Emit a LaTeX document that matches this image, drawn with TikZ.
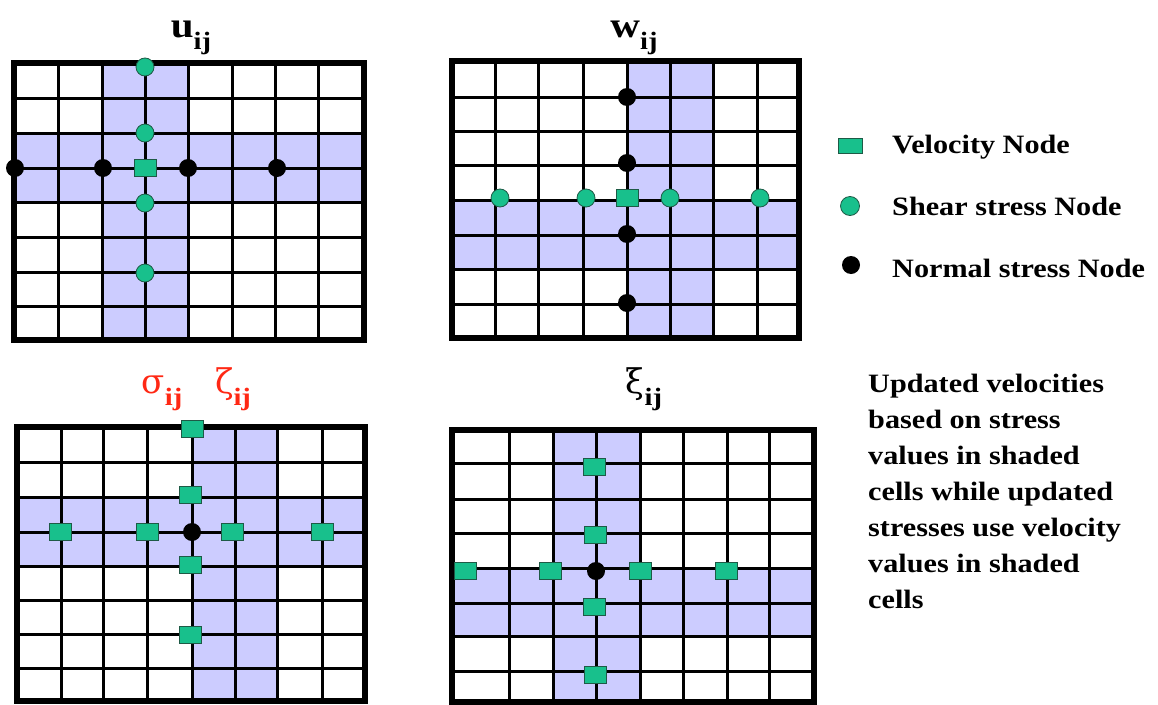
\documentclass[tikz,border=0pt]{standalone}
\usepackage{fontspec}
\setmainfont{Liberation Serif}[FakeStretch=1.14]
\newfontfamily\greekfont{DejaVu Serif}
\definecolor{shadecell}{RGB}{204,204,255}
\definecolor{nodegreen}{RGB}{24,192,140}
\definecolor{nodeedge}{RGB}{30,90,70}
\definecolor{titlered}{RGB}{255,40,20}
\tikzset{
  gridline/.style={line width=3pt},
  frameline/.style={line width=6pt},
  velnode/.style={rectangle, fill=nodegreen, draw=nodeedge, line width=0.8pt,
    minimum width=22pt, minimum height=17pt, inner sep=0pt},
  shearnode/.style={circle, fill=nodegreen, draw=nodeedge, line width=0.8pt,
    minimum size=18pt, inner sep=0pt},
  normalnode/.style={circle, fill=black, minimum size=18pt, inner sep=0pt},
  titletxt/.style={anchor=base, inner sep=0pt},
  legendtxt/.style={anchor=base west, inner sep=0pt,
    font=\fontsize{26.5}{36}\selectfont\bfseries},
}
\newcommand{\bigsym}[1]{{\fontsize{36}{36}\selectfont #1}}
\newcommand{\greeksym}[1]{{\greekfont\fontsize{34}{34}\selectfont #1}}
\newcommand{\subij}{\raisebox{-12pt}{\fontsize{25}{25}\selectfont\bfseries ij}}
\begin{document}
\begin{tikzpicture}[x=1pt, y=-1pt]
\useasboundingbox (0,0) rectangle (1158,704);
\fill[white] (0,0) rectangle (1158,704);

% ---------- u_ij grid ----------
\fill[shadecell] (102,63) rectangle (188,340);
\fill[shadecell] (14,133) rectangle (364,202);
\foreach \x in {58,102,145,188,232,275,318} \draw[gridline] (\x,63) -- (\x,340);
\foreach \y in {98,133,168,202,237,272,306} \draw[gridline] (14,\y) -- (364,\y);
\draw[frameline] (14,63) rectangle (364,340);
\node[titletxt] (tu) at (191,37) {\bfseries\bigsym{u}\subij};
\node[shearnode] (u-s1) at (145,67) {};
\node[shearnode] (u-s2) at (145,133) {};
\node[shearnode] (u-s3) at (145,203) {};
\node[shearnode] (u-s4) at (145,273) {};
\node[normalnode] (u-n1) at (15,168) {};
\node[normalnode] (u-n2) at (103,168) {};
\node[normalnode] (u-n3) at (188,168) {};
\node[normalnode] (u-n4) at (277,168) {};
\node[velnode] (u-v) at (145,168) {};

% ---------- w_ij grid ----------
\fill[shadecell] (627,61) rectangle (713,338);
\fill[shadecell] (452,200) rectangle (799,269);
\foreach \x in {495,538,583,627,670,713,757} \draw[gridline] (\x,61) -- (\x,338);
\foreach \y in {97,131,165,200,235,269,304} \draw[gridline] (452,\y) -- (799,\y);
\draw[frameline] (452,61) rectangle (799,338);
\node[titletxt] (tw) at (634,37) {\bfseries\bigsym{w}\subij};
\node[normalnode] (w-n1) at (627,97) {};
\node[normalnode] (w-n2) at (627,163) {};
\node[normalnode] (w-n3) at (627,234) {};
\node[normalnode] (w-n4) at (627,303) {};
\node[shearnode] (w-s1) at (500,198) {};
\node[shearnode] (w-s2) at (586,198) {};
\node[shearnode] (w-s3) at (670,198) {};
\node[shearnode] (w-s4) at (760,198) {};
\node[velnode] (w-v) at (627,198) {};

% ---------- sigma_ij / zeta_ij grid ----------
\fill[shadecell] (192,427) rectangle (277,701);
\fill[shadecell] (17,497) rectangle (365,566);
\foreach \x in {61,103,147,192,235,277,322} \draw[gridline] (\x,427) -- (\x,701);
\foreach \y in {462,497,532,566,600,634,668} \draw[gridline] (17,\y) -- (365,\y);
\draw[frameline] (17,427) rectangle (365,701);
\node[titletxt, text=titlered] (tsig) at (162,393) {\greeksym{σ}\subij};
\node[titletxt, text=titlered] (tzeta) at (233,393) {\greeksym{ζ}\subij};
\node[velnode] (s-v1) at (192,429) {};
\node[velnode] (s-v2) at (190,495) {};
\node[velnode] (s-v3) at (190,565) {};
\node[velnode] (s-v4) at (190,635) {};
\node[velnode] (s-v5) at (60,532) {};
\node[velnode] (s-v6) at (147,532) {};
\node[velnode] (s-v7) at (232,532) {};
\node[velnode] (s-v8) at (322,532) {};
\node[normalnode] (s-n) at (192,532) {};

% ---------- xi_ij grid ----------
\fill[shadecell] (553,430) rectangle (640,702);
\fill[shadecell] (452,568) rectangle (814,636);
\foreach \x in {509,553,596,640,683,727,769} \draw[gridline] (\x,430) -- (\x,702);
\foreach \y in {463,499,533,568,603,636,671} \draw[gridline] (452,\y) -- (814,\y);
\draw[frameline] (452,430) rectangle (814,702);
\node[titletxt] (txi) at (644,393) {\greeksym{ξ}\subij};
\node[velnode] (x-v1) at (594,467) {};
\node[velnode] (x-v2) at (595,535) {};
\node[velnode] (x-v3) at (594,607) {};
\node[velnode] (x-v4) at (595,675) {};
\node[velnode] (x-v5) at (465,571) {};
\node[velnode] (x-v6) at (550,571) {};
\node[velnode] (x-v7) at (640,571) {};
\node[velnode] (x-v8) at (726,571) {};
\node[normalnode] (x-n) at (596,571) {};

% ---------- legend ----------
\node[velnode, minimum width=24pt, minimum height=15pt] (lg-v) at (850,146) {};
\node[shearnode, minimum size=19pt] (lg-s) at (850,206) {};
\node[normalnode, minimum size=18pt] (lg-n) at (851,265) {};
\node[legendtxt] (lg-vt) at (892,153) {Velocity Node};
\node[legendtxt] (lg-st) at (892,215) {Shear stress Node};
\node[legendtxt] (lg-nt) at (892,277) {Normal stress Node};

% ---------- note (base anchor sits on the last line) ----------
\node[legendtxt, align=left] (note) at (868,608)
  {Updated velocities\\based on stress\\values in shaded\\cells while updated\\stresses use velocity\\values in shaded\\cells};
\end{tikzpicture}
\end{document}
